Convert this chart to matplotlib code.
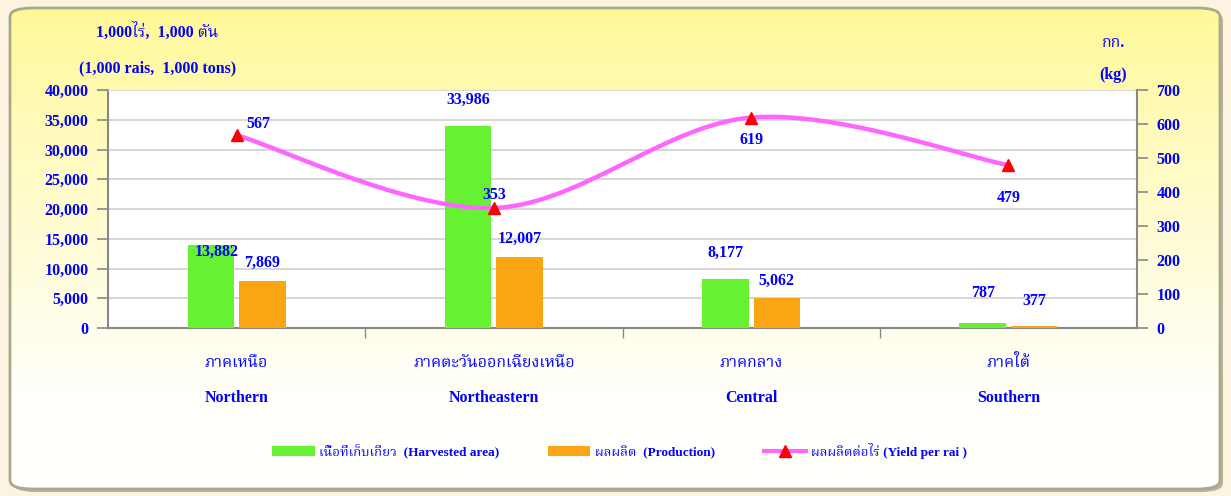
import numpy as np
import matplotlib
matplotlib.use("Agg")
import matplotlib.pyplot as plt
from matplotlib import font_manager as fm
from matplotlib.ft2font import FT2Font
from matplotlib.patches import FancyBboxPatch, Patch
from matplotlib.lines import Line2D
from matplotlib.font_manager import FontProperties

# ---------------- data ----------------
regions_th = ["ภาคเหนือ", "ภาคตะวันออกเฉียงเหนือ", "ภาคกลาง", "ภาคใต้"]
regions_en = ["Northern", "Northeastern", "Central", "Southern"]
harvested = [13882, 33986, 8177, 787]
production = [7869, 12007, 5062, 377]
yield_per_rai = [567, 353, 619, 479]
left_ticks = [0, 5000, 10000, 15000, 20000, 25000, 30000, 35000, 40000]
right_ticks = [0, 100, 200, 300, 400, 500, 600, 700]

# ---------------- fonts ----------------
thai_family = None
cands = []
for f in fm.fontManager.ttflist:
    try:
        ft = FT2Font(f.fname)
        if ord("ก") in ft.get_charmap():
            cands.append(f.name)
    except Exception:
        pass
for pref in ["Noto Serif Thai", "Noto Sans Thai", "Noto Sans Thai Looped", "Garuda", "Loma", "Norasi", "Tlwg Typo"]:
    if pref in cands:
        thai_family = pref
        break
if thai_family is None and cands:
    thai_family = cands[0]
FAM = ["Liberation Serif"] + ([thai_family] if thai_family else []) + ["DejaVu Sans"]
plt.rcParams["font.family"] = FAM
plt.rcParams["font.weight"] = "bold"

BLUE = "#0000ff"
GREEN = "#66f233"
ORANGE = "#fba414"
MAGENTA = "#ff66ff"

W, H = 1231, 496
fig = plt.figure(figsize=(W / 100, H / 100), dpi=100)
fig.patch.set_facecolor("#fdf3e1")

# ---------------- background frame with gradient ----------------
bgax = fig.add_axes([0, 0, 1, 1], zorder=0)
bgax.set_axis_off()
bgax.set_xlim(0, 1); bgax.set_ylim(0, 1)
box = (10 / W, 7 / H, 1210 / W, 481 / H)
rs = "round,pad=0,rounding_size=0.018"
shadow = FancyBboxPatch((box[0] + 3 / W, box[1] - 3 / H), box[2], box[3], boxstyle=rs,
                        transform=bgax.transAxes, facecolor="#b8b49c",
                        edgecolor="none", zorder=0)
bgax.add_patch(shadow)
g = np.linspace(0, 1, 256)[:, None]
top = np.array([1.0, 0.972, 0.58])
bot = np.array([1.0, 1.0, 0.985])
t = np.clip(g / 0.8, 0, 1) ** 0.9
img = top[None, None, :] * (1 - t[..., None]) + bot[None, None, :] * t[..., None]
img = np.repeat(img, 4, axis=1)
im = bgax.imshow(img, extent=[0, 1, 0, 1], aspect="auto", origin="upper",
                 transform=bgax.transAxes, zorder=1)
clip = FancyBboxPatch(box[:2], box[2], box[3], boxstyle=rs,
                      transform=bgax.transAxes, facecolor="none", edgecolor="none")
bgax.add_patch(clip)
im.set_clip_path(clip)
frame = FancyBboxPatch(box[:2], box[2], box[3], boxstyle=rs,
                       transform=bgax.transAxes, facecolor="none",
                       edgecolor="#a9a98c", linewidth=2.0, zorder=2)
bgax.add_patch(frame)

# ---------------- main axes ----------------
ax = fig.add_axes([108 / W, 1 - 328 / H, 1029 / W, 238 / H], zorder=2)
ax.set_facecolor("white")
x = np.arange(len(regions_en))
bw = 0.18
ax.bar(x - 0.1, harvested, bw, color=GREEN, zorder=3)
ax.bar(x + 0.1, production, bw, color=ORANGE, zorder=3)
ax.set_xlim(-0.5, 3.5)
ax.set_ylim(0, 40000)
ax.set_yticks(left_ticks)
ax.set_yticklabels([f"{v:,}" for v in left_ticks])
ax.yaxis.grid(True, color="#d0d0d0", lw=1.2, zorder=0)
ax.set_axisbelow(True)
ax.set_xticks([0.5, 1.5, 2.5])
ax.set_xticklabels([])
ax.tick_params(axis="x", direction="out", length=7, color="#888888", width=1)
ax.tick_params(axis="y", direction="out", length=8, color="#888888", width=1.2,
               labelcolor=BLUE, labelsize=11.5, pad=6)
for lab in ax.get_yticklabels():
    lab.set_fontweight("bold")
for s in ["left", "bottom"]:
    ax.spines[s].set_color("#888888"); ax.spines[s].set_linewidth(1.5)
ax.spines["top"].set_color("#d8d8d8")
ax.spines["right"].set_visible(False)

# bar labels
bar_offsets_h = [(4, -5), (0, 13), (0, 13), (0, 16)]
bar_offsets_p = [(0, 13), (0, 13), (0, 12), (0, 18)]
for i in range(len(x)):
    ax.annotate(f"{harvested[i]:,}", (x[i] - 0.1, harvested[i]), xytext=bar_offsets_h[i],
                textcoords="offset points", ha="center", va="bottom" if i else "center",
                color=BLUE, fontsize=11.5, fontweight="bold", zorder=6)
    ax.annotate(f"{production[i]:,}", (x[i] + 0.1, production[i]), xytext=bar_offsets_p[i],
                textcoords="offset points", ha="center", va="center",
                color=BLUE, fontsize=11.5, fontweight="bold", zorder=6)

# category labels
for i in range(len(x)):
    ax.text(x[i], -35 / 238, regions_th[i], transform=ax.get_xaxis_transform(),
            ha="center", va="center", color=BLUE, fontsize=11.5, fontweight="bold")
    ax.text(x[i], -70 / 238, regions_en[i], transform=ax.get_xaxis_transform(),
            ha="center", va="center", color=BLUE, fontsize=11.5, fontweight="bold")

# ---------------- right axes ----------------
ax2 = ax.twinx()
ax2.set_zorder(3)
ax2.patch.set_visible(False)
ax2.set_ylim(0, 700)
ax2.set_yticks(right_ticks)
ax2.tick_params(axis="y", direction="out", length=8, color="#888888", width=1.2,
                labelcolor=BLUE, labelsize=11.5, pad=6)
for lab in ax2.get_yticklabels():
    lab.set_fontweight("bold")
ax2.spines["right"].set_color("#888888"); ax2.spines["right"].set_linewidth(1.5)
for s in ["left", "top", "bottom"]:
    ax2.spines[s].set_visible(False)

# smooth (Catmull-Rom) rendering of the yield line
px = np.array(x, dtype=float)
py = np.array(yield_per_rai, dtype=float)
P = np.column_stack([px, py])
P = np.vstack([P[0], P, P[-1]])
cx, cy = [], []
for k in range(1, len(P) - 2):
    p0, p1, p2, p3 = P[k - 1], P[k], P[k + 1], P[k + 2]
    tt = np.linspace(0, 1, 60)[:, None]
    seg = 0.5 * ((2 * p1) + (-p0 + p2) * tt + (2 * p0 - 5 * p1 + 4 * p2 - p3) * tt ** 2
                 + (-p0 + 3 * p1 - 3 * p2 + p3) * tt ** 3)
    cx.extend(seg[:, 0]); cy.extend(seg[:, 1])
ax2.plot(cx, cy, color=MAGENTA, lw=3.2, zorder=4, solid_capstyle="round")
ax2.plot(px, py, linestyle="none", marker="^", color="red", markersize=8.5, zorder=5)

yield_offsets = [(16, 8), (0, 9), (0, -16), (0, -24)]
for i in range(len(x)):
    ax2.annotate(f"{yield_per_rai[i]}", (px[i], py[i]), xytext=yield_offsets[i],
                 textcoords="offset points", ha="center", va="center",
                 color=BLUE, fontsize=11.5, fontweight="bold", zorder=6)

# ---------------- unit labels ----------------
fig.text(157 / W, 1 - 32 / H, "1,000ไร่,  1,000 ตัน", ha="center", va="center",
         color=BLUE, fontsize=11.5, fontweight="bold", zorder=5)
fig.text(158 / W, 1 - 68 / H, "(1,000 rais,  1,000 tons)", ha="center", va="center",
         color=BLUE, fontsize=11.5, fontweight="bold", zorder=5)
fig.text(1113 / W, 1 - 43 / H, "กก.", ha="center", va="center",
         color=BLUE, fontsize=11.5, fontweight="bold", zorder=5)
fig.text(1113 / W, 1 - 75 / H, "(kg)", ha="center", va="center",
         color=BLUE, fontsize=11.5, fontweight="bold", zorder=5)

# ---------------- legend ----------------
handles = [Patch(facecolor=GREEN, edgecolor="none"),
           Patch(facecolor=ORANGE, edgecolor="none"),
           Line2D([0], [0], color=MAGENTA, lw=3, marker="^", markerfacecolor="red",
                  markeredgecolor="red", markersize=8)]
labels = ["เนื้อที่เก็บเกี่ยว  (Harvested area)", "ผลผลิต  (Production)",
          "ผลผลิตต่อไร่ (Yield per rai )"]
leg = fig.legend(handles, labels, loc="center", bbox_to_anchor=(0.5033, 1 - 451 / H),
                 ncol=3, frameon=False, columnspacing=3.7, handlelength=3.2,
                 handleheight=0.8, handletextpad=0.35,
                 prop=FontProperties(family=FAM, weight="bold", size=9.5))
for txt in leg.get_texts():
    txt.set_color(BLUE)

fig.savefig("out.png", dpi=100, facecolor=fig.get_facecolor())
